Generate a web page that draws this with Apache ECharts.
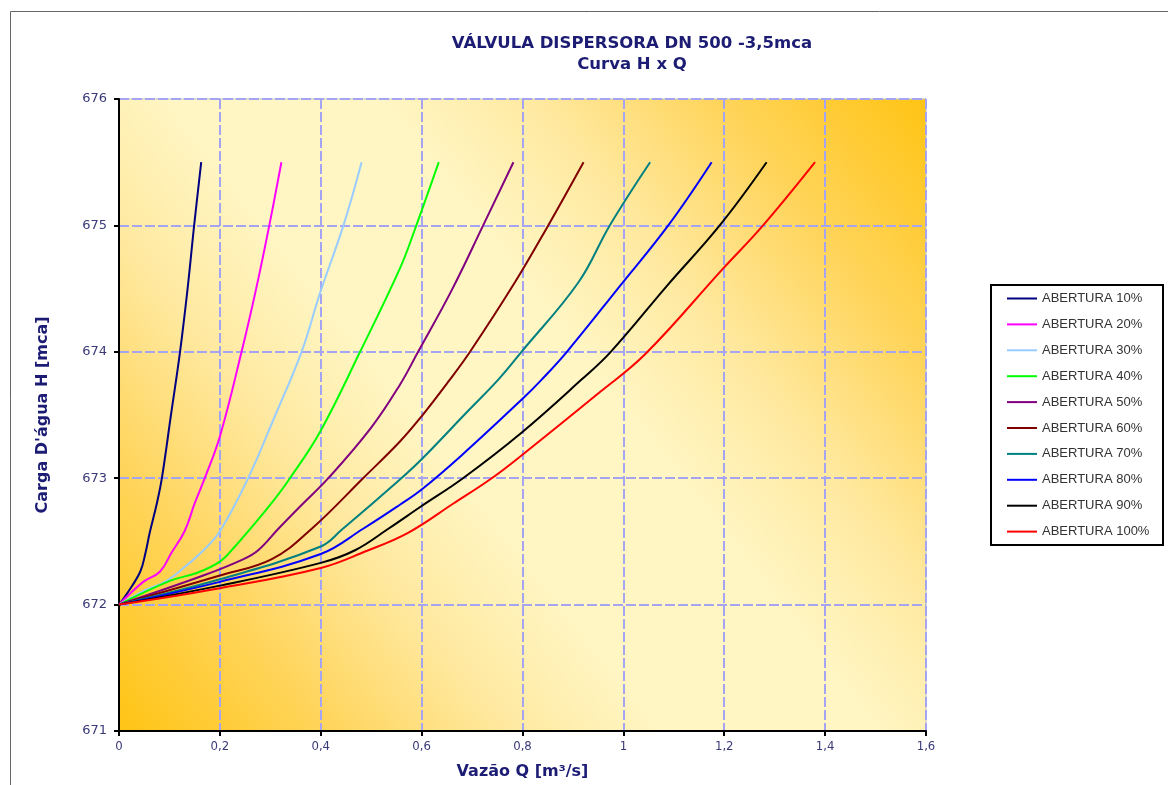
<!DOCTYPE html>
<html>
<head>
<meta charset="utf-8">
<script src="https://cdn.jsdelivr.net/npm/echarts@6/dist/echarts.min.js"></script>
<style>
  html, body { margin: 0; padding: 0; background: #fff; }
  #chart { width: 1168px; height: 785px; }
</style>
</head>
<body>
<div id="chart"></div>
<script>
// Curva H x Q, [Q m3/s, H mca]
var ab10 = [[0, 672], [0.018, 672.10], [0.042, 672.26], [0.052, 672.40], [0.061, 672.57], [0.075, 672.80], [0.085, 673.0], [0.103, 673.5], [0.121, 674.0], [0.136, 674.5], [0.149, 675.0], [0.163, 675.5]];
var ab20 = [[0, 672], [0.048, 672.18], [0.081, 672.26], [0.104, 672.41], [0.130, 672.58], [0.150, 672.80], [0.170, 673.0], [0.200, 673.33], [0.243, 674.0], [0.272, 674.5], [0.298, 675.0], [0.322, 675.5]];
var ab30 = [[0, 672], [0.055, 672.12], [0.091, 672.18], [0.134, 672.31], [0.170, 672.44], [0.200, 672.58], [0.256, 673.0], [0.310, 673.5], [0.362, 674.0], [0.399, 674.47], [0.445, 675.0], [0.481, 675.5]];
var ab40 = [[0, 672], [0.102, 672.19], [0.154, 672.25], [0.200, 672.34], [0.230, 672.46], [0.256, 672.58], [0.300, 672.79], [0.339, 673.0], [0.399, 673.37], [0.478, 674.0], [0.557, 674.66], [0.585, 674.95], [0.634, 675.5]];
var ab50 = [[0, 672], [0.167, 672.23], [0.247, 672.36], [0.276, 672.43], [0.316, 672.60], [0.360, 672.78], [0.415, 673.0], [0.500, 673.40], [0.557, 673.74], [0.593, 674.0], [0.660, 674.49], [0.722, 675.0], [0.782, 675.5]];
var ab60 = [[0, 672], [0.200, 672.23], [0.303, 672.36], [0.382, 672.60], [0.484, 673.0], [0.557, 673.29], [0.600, 673.49], [0.656, 673.78], [0.696, 674.0], [0.785, 674.55], [0.851, 675.0], [0.921, 675.5]];
var ab70 = [[0, 672], [0.200, 672.20], [0.400, 672.46], [0.441, 672.59], [0.557, 672.99], [0.600, 673.15], [0.689, 673.52], [0.752, 673.78], [0.798, 674.0], [0.911, 674.55], [0.973, 675.0], [1.053, 675.5]];
var ab80 = [[0, 672], [0.200, 672.18], [0.400, 672.40], [0.484, 672.60], [0.557, 672.79], [0.600, 672.91], [0.679, 673.18], [0.798, 673.62], [0.838, 673.78], [0.888, 674.0], [0.993, 674.52], [1.089, 675.0], [1.175, 675.5]];
var ab90 = [[0, 672], [0.200, 672.15], [0.400, 672.33], [0.468, 672.43], [0.534, 672.60], [0.600, 672.78], [0.682, 673.0], [0.798, 673.36], [0.917, 673.78], [0.975, 674.0], [1.086, 674.52], [1.191, 675.0], [1.284, 675.5]];
var ab100 = [[0, 672], [0.200, 672.13], [0.400, 672.29], [0.488, 672.42], [0.574, 672.57], [0.663, 672.80], [0.739, 673.0], [0.798, 673.18], [0.953, 673.68], [1.043, 673.98], [1.198, 674.66], [1.277, 675.0], [1.380, 675.5]];

var names = ['ABERTURA 10%', 'ABERTURA 20%', 'ABERTURA 30%', 'ABERTURA 40%', 'ABERTURA 50%',
             'ABERTURA 60%', 'ABERTURA 70%', 'ABERTURA 80%', 'ABERTURA 90%', 'ABERTURA 100%'];
var curves = [ab10, ab20, ab30, ab40, ab50, ab60, ab70, ab80, ab90, ab100];
var colors = ['#000080', '#FF00FF', '#99CCFF', '#00FF00', '#800080',
              '#800000', '#008080', '#0000FF', '#000000', '#FF0000'];

// plot area
var gx = 119, gy = 99, gw = 807, gh = 633;
var navy = '#1C1C74';
var axisText = '#3A3A78';

var series = [];
for (var i = 0; i < curves.length; i++) {
    series.push({
        name: names[i],
        type: 'line',
        data: curves[i],
        smooth: 0.4,
        symbol: 'none',
        lineStyle: { color: colors[i], width: 2 },
        itemStyle: { color: colors[i] },
        z: 5
    });
}

var chart = echarts.init(document.getElementById('chart'));
chart.setOption({
    animation: false,
    color: colors,
    title: {
        text: 'VÁLVULA DISPERSORA DN 500 -3,5mca\nCurva H x Q',
        left: 627, top: 28, textAlign: 'center',
        textStyle: { fontFamily: 'DejaVu Sans', fontWeight: 'bold', fontSize: 16.5, color: navy, lineHeight: 21 }
    },
    legend: {
        orient: 'vertical',
        left: 1006, top: 292,
        itemWidth: 30, itemHeight: 14, itemGap: 12.9,
        padding: 0,
        itemStyle: { opacity: 0 },
        lineStyle: { width: 2 },
        textStyle: { fontFamily: 'Liberation Sans', fontSize: 13, color: '#333' },
        data: names
    },
    grid: {
        left: gx, top: gy, width: gw, height: gh,
        show: true, borderColor: '#BDBDBD', borderWidth: 1, backgroundColor: 'transparent'
    },
    xAxis: {
        type: 'value', min: 0, max: 1.6, interval: 0.2,
        name: 'Vazão Q [m³/s]', nameLocation: 'middle', nameGap: 33,
        nameTextStyle: { fontFamily: 'DejaVu Sans', fontWeight: 'bold', fontSize: 16, color: navy },
        axisLine: { show: true, onZero: false, lineStyle: { color: '#000', width: 2 } },
        axisTick: { show: true, length: 5, lineStyle: { color: '#000', width: 2 } },
        axisLabel: {
            margin: 9, fontFamily: 'DejaVu Sans Condensed', fontSize: 13, color: axisText,
            formatter: function (v) { return String(+v.toFixed(1)).replace('.', ','); }
        },
        splitLine: { show: true, lineStyle: { color: '#A4A4F2', width: 2, type: [10, 3] } }
    },
    yAxis: {
        type: 'value', min: 671, max: 676, interval: 1,
        name: "Carga D'água H [mca]", nameLocation: 'middle', nameGap: 68, nameRotate: 90,
        nameTextStyle: { fontFamily: 'DejaVu Sans', fontWeight: 'bold', fontSize: 16, color: navy },
        axisLine: { show: true, onZero: false, lineStyle: { color: '#000', width: 2 } },
        axisTick: { show: true, length: 5, lineStyle: { color: '#000', width: 2 } },
        axisLabel: { margin: 12, fontFamily: 'DejaVu Sans', fontSize: 13, color: axisText },
        splitLine: { show: true, lineStyle: { color: '#A4A4F2', width: 2, type: [10, 3] } }
    },
    graphic: [
        // outer chart border
        { type: 'rect', z: -20, silent: true,
          shape: { x: 10.5, y: 11.5, width: 1300, height: 900 },
          style: { fill: '#fff', stroke: '#666', lineWidth: 1 } },
        // plot area fill: deep orange in BL and TR corners, cream band from TL to BR
        { type: 'rect', z: -10, silent: true,
          shape: { x: gx, y: gy, width: gw, height: gh },
          style: { fill: new echarts.graphic.LinearGradient(gx, gy + gh, gx + gw, gy, [
              { offset: 0, color: '#FFC414' },
              { offset: 0.16, color: '#FFD45A' },
              { offset: 0.3, color: '#FFE9A0' },
              { offset: 0.42, color: '#FFF6C4' },
              { offset: 0.58, color: '#FFF6C4' },
              { offset: 0.7, color: '#FFE9A0' },
              { offset: 0.84, color: '#FFD45A' },
              { offset: 1, color: '#FFC414' }
          ], true) } },
        // legend box
        { type: 'rect', z: 1, silent: true,
          shape: { x: 991, y: 285, width: 172, height: 260 },
          style: { fill: '#fff', stroke: '#000', lineWidth: 2 } }
    ],
    series: series
});
</script>
</body>
</html>
